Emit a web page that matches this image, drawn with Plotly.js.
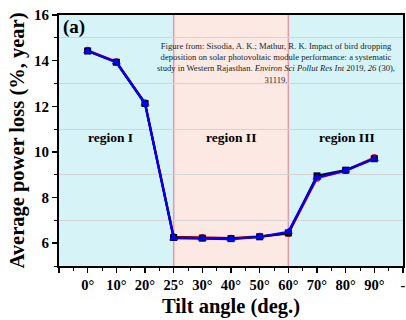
<!DOCTYPE html>
<html><head><meta charset="utf-8">
<script src="https://cdn.plot.ly/plotly-3.0.1.min.js"></script>
<style>html,body{margin:0;padding:0;background:#fff;}#chart{width:406px;height:320px;}</style>
</head><body><div id="chart"></div>
<script>
const tiltAngles = ['0°','10°','20°','25°','30°','40°','50°','60°','70°','80°','90°'];
const tickLabels = ['', '0°','10°','20°','25°','30°','40°','50°','60°','70°','80°','90°','-'];
const seriesRed   = [14.45, 13.95, 12.15, 6.28, 6.25, 6.22, 6.30, 6.42, 8.85, 9.18, 9.75];
const seriesBlack = [14.42, 13.93, 12.12, 6.25, 6.22, 6.20, 6.28, 6.45, 8.95, 9.20, 9.70];
const seriesBlue  = [14.42, 13.93, 12.12, 6.22, 6.20, 6.18, 6.28, 6.50, 8.88, 9.18, 9.70];
const regionNames = ['region I', 'region II', 'region III'];
const regionBounds = ['', '25°', '60°', '-'];

const tickPos = tickLabels.map((t,i)=>i);
const xs = tiltAngles.map(a => tickLabels.indexOf(a));
const bx = regionBounds.map(b => tickLabels.indexOf(b));

const serif = 'Liberation Serif, Times New Roman, serif';
function tr(y, color, symbol, size){
  return {x: xs, y: y, type:'scatter', mode:'lines+markers',
    line:{color:color, width:2.3}, marker:{color:color, symbol:symbol, size:size}, showlegend:false};
}
const data = [tr(seriesRed,'#ff0000','circle',7), tr(seriesBlack,'#000000','square',7), tr(seriesBlue,'#0000ff','triangle-up',8)];

const regionColors = ['#d6f4f8', '#fde9e4', '#d6f4f8'];
const shapes = [];
for (let i=0;i<3;i++){
  shapes.push({type:'rect', xref:'x', yref:'paper', x0:bx[i], x1:bx[i+1], y0:0, y1:1,
    fillcolor:regionColors[i], line:{width:0}, layer:'below'});
}
[bx[1], bx[2]].forEach(v => shapes.push({type:'line', xref:'x', yref:'paper', x0:v, x1:v, y0:0, y1:1,
  line:{color:'#e39aa6', width:1.5}, layer:'below'}));

const annotations = [
  {text:'<b>(a)</b>', xref:'paper', yref:'paper', x:0.005, y:1.005, xanchor:'left', yanchor:'top', showarrow:false,
   font:{family:serif, size:19, color:'#000'}},
  {text:'Figure from: Sisodia, A. K.; Mathur, R. K. Impact of bird dropping<br>deposition on solar photovoltaic module performance: a systematic<br>study in Western Rajasthan. <i>Environ Sci Pollut Res Int</i> 2019, <i>26</i> (30),<br>31119.',
   xref:'paper', yref:'paper', x:0.632, y:0.905, xanchor:'center', yanchor:'top', align:'center', showarrow:false,
   font:{family:serif, size:8.6, color:'#222'}}
];
const regionLabelX = [1.8, 6.0, 10.05];
regionNames.forEach((n,i)=>annotations.push({text:'<b>'+n+'</b>', x:regionLabelX[i], y:10.65, xref:'x', yref:'y',
  showarrow:false, font:{family:serif, size:13.5, color:'#000'}}));

const layout = {
  width:406, height:320, margin:{l:59, r:3, t:15, b:54},
  paper_bgcolor:'#fff', plot_bgcolor:'#fff',
  font:{family:serif, color:'#000'},
  xaxis:{range:[0,12], tickvals:tickPos, ticktext:tickLabels.map(t=>t?'<b>'+t+'</b>':''),
    showgrid:false, zeroline:false, showline:true, linecolor:'#000', linewidth:2, mirror:true,
    ticks:'outside', ticklen:5, tickwidth:1.5, tickcolor:'#000',
    minor:{dtick:0.5, ticks:'outside', ticklen:3, tickwidth:1, tickcolor:'#000'},
    tickfont:{family:serif, size:14.5, color:'#000'},
    title:{text:'<b>Tilt angle (deg.)</b>', font:{family:serif, size:20.5, color:'#000'}, standoff:6}},
  yaxis:{range:[5,16], tickvals:[6,8,10,12,14,16], ticktext:['<b>6</b>','<b>8</b>','<b>10</b>','<b>12</b>','<b>14</b>','<b>16</b>'],
    showgrid:false, zeroline:false, showline:true, linecolor:'#000', linewidth:2, mirror:true,
    ticks:'outside', ticklen:5, tickwidth:1.5, tickcolor:'#000',
    minor:{tickvals:[5,7,9,11,13,15], ticks:'outside', ticklen:3, tickwidth:1, tickcolor:'#000', showgrid:true, gridcolor:'#d4d4d4', gridwidth:1},
    tickfont:{family:serif, size:15, color:'#000'},
    title:{text:'<b>Average power loss (%, year)</b>', font:{family:serif, size:20.5, color:'#000'}, standoff:4}},
  shapes:shapes, annotations:annotations
};
Plotly.newPlot('chart', data, layout, {displayModeBar:false, staticPlot:true});
</script></body></html>
